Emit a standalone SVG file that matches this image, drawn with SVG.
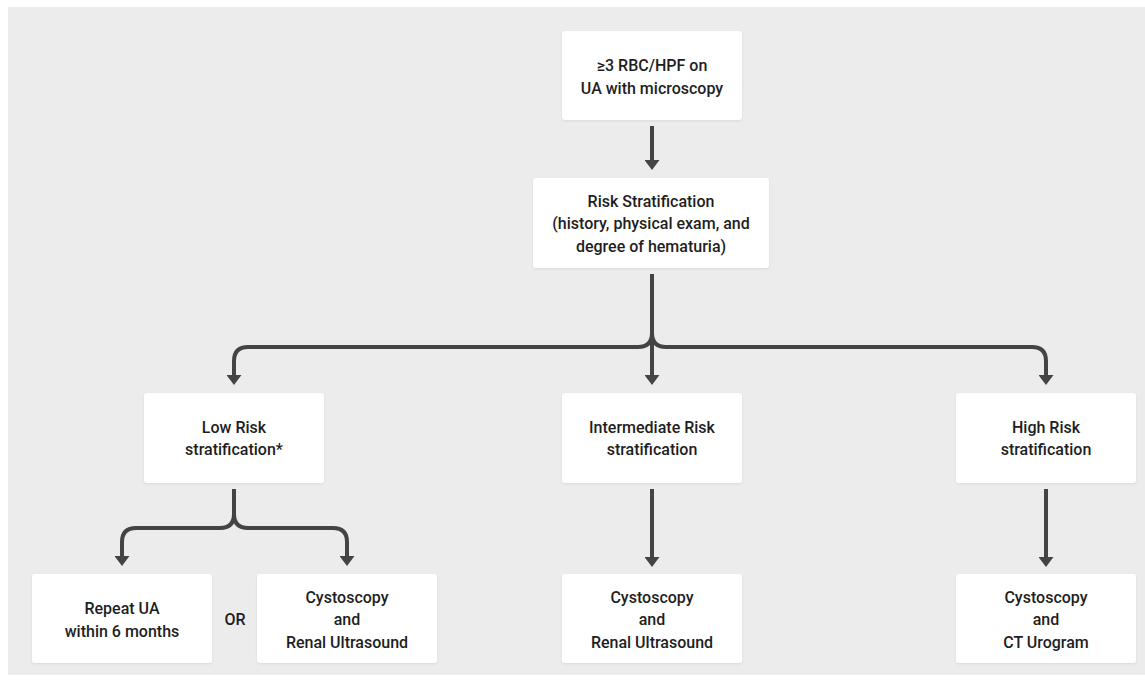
<svg xmlns="http://www.w3.org/2000/svg" width="1145" height="685" viewBox="0 0 1145 685">
<defs>
<style>
.box{fill:#ffffff;filter:url(#sh)}
.t{font-family:Roboto,"Liberation Sans",sans-serif;font-weight:500;font-size:16px;fill:#1e1e1e;text-anchor:middle}
.c{fill:none;stroke:#444444;stroke-width:4}
</style>
<filter id="sh" x="-10%" y="-10%" width="120%" height="130%">
<feDropShadow dx="0" dy="1" stdDeviation="1" flood-color="#000" flood-opacity="0.08"/>
</filter>
<marker id="ah" markerUnits="userSpaceOnUse" markerWidth="11" markerHeight="15" refX="0" refY="7.5" orient="auto" viewBox="0 0 11 15">
<path d="M0,0 L10,7.5 L0,15 z" fill="#444444"/>
</marker>
</defs>
<rect x="8" y="7" width="1137" height="668" fill="#ececec"/>
<g id="connectors">
<path class="c" d="M652 126 L652 160" marker-end="url(#ah)"/>
<path class="c" d="M652 274 L652 375" marker-end="url(#ah)"/>
<path class="c" d="M652 333 Q652 347 638 347 L248 347 Q234 347 234 361 L234 375" marker-end="url(#ah)"/>
<path class="c" d="M652 333 Q652 347 666 347 L1032 347 Q1046 347 1046 361 L1046 375" marker-end="url(#ah)"/>
<path class="c" d="M652 489 L652 557" marker-end="url(#ah)"/>
<path class="c" d="M1046 489 L1046 557" marker-end="url(#ah)"/>
<path class="c" d="M234 489 L234 514 Q234 528 220 528 L136 528 Q122 528 122 542 L122 556" marker-end="url(#ah)"/>
<path class="c" d="M234 514 Q234 528 248 528 L333 528 Q347 528 347 542 L347 556" marker-end="url(#ah)"/>
</g>
<g id="n-start">
<rect class="box" x="562" y="31" width="180" height="89" rx="3"/>
<text class="t" x="652" y="70.5">≥3 RBC/HPF on</text>
<text class="t" x="652" y="93.5">UA with microscopy</text>
</g>
<g id="n-risk">
<rect class="box" x="533" y="178" width="236" height="90" rx="3"/>
<text class="t" x="651" y="206.5">Risk Stratification</text>
<text class="t" x="651" y="228.5">(history, physical exam, and</text>
<text class="t" x="651" y="251.5">degree of hematuria)</text>
</g>
<g id="n-low">
<rect class="box" x="144" y="393" width="180" height="90" rx="3"/>
<text class="t" x="234" y="432.5">Low Risk</text>
<text class="t" x="234" y="454.5">stratification*</text>
</g>
<g id="n-int">
<rect class="box" x="562" y="393" width="180" height="90" rx="3"/>
<text class="t" x="652" y="432.5">Intermediate Risk</text>
<text class="t" x="652" y="454.5">stratification</text>
</g>
<g id="n-high">
<rect class="box" x="956" y="393" width="180" height="90" rx="3"/>
<text class="t" x="1046" y="432.5">High Risk</text>
<text class="t" x="1046" y="454.5">stratification</text>
</g>
<g id="n-repeat">
<rect class="box" x="32" y="574" width="180" height="89" rx="3"/>
<text class="t" x="122" y="613.5">Repeat UA</text>
<text class="t" x="122" y="636.5">within 6 months</text>
</g>
<g id="n-or">
<text class="t" x="235" y="624.5">OR</text>
</g>
<g id="n-cysto-low">
<rect class="box" x="257" y="574" width="180" height="89" rx="3"/>
<text class="t" x="347" y="602.5">Cystoscopy</text>
<text class="t" x="347" y="624.5">and</text>
<text class="t" x="347" y="647.5">Renal Ultrasound</text>
</g>
<g id="n-cysto-int">
<rect class="box" x="562" y="574" width="180" height="89" rx="3"/>
<text class="t" x="652" y="602.5">Cystoscopy</text>
<text class="t" x="652" y="624.5">and</text>
<text class="t" x="652" y="647.5">Renal Ultrasound</text>
</g>
<g id="n-cysto-high">
<rect class="box" x="956" y="574" width="180" height="89" rx="3"/>
<text class="t" x="1046" y="602.5">Cystoscopy</text>
<text class="t" x="1046" y="624.5">and</text>
<text class="t" x="1046" y="647.5">CT Urogram</text>
</g>
</svg>
